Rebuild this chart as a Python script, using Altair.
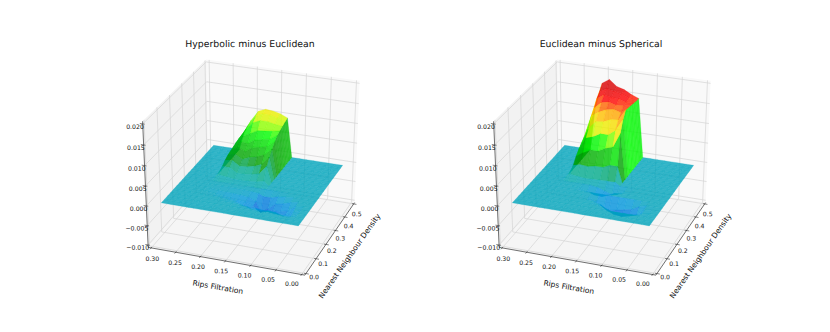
import altair as alt
import numpy as np
import pandas as pd

W, H = 814, 316
PANEL_SHIFT = [0, 351]
TITLES = ["Hyperbolic minus Euclidean", "Euclidean minus Spherical"]

# surface grid nodes
RIPS = [0.015, 0.03, 0.045, 0.06, 0.075, 0.09, 0.105, 0.12, 0.13, 0.145, 0.16, 0.175,
        0.19, 0.205, 0.22, 0.23, 0.25, 0.265, 0.285]
DENS = [round(0.025 * i, 3) for i in range(1, 20)]

# raised block: rows by density, columns by Rips value (units of 1e-3)
HUMP_RIPS = [0.22, 0.205, 0.19, 0.175, 0.16, 0.145, 0.13]
HUMP_DENS = [0.475, 0.45, 0.425, 0.4, 0.375, 0.35, 0.325, 0.3, 0.275, 0.25]
HUMP_A = [
    [4.5, 8.0, 10.6, 11.4, 11.2, 10.8, 10.0],
    [4.5, 7.6, 10.0, 11.0, 10.9, 10.4, 9.7],
    [4.5, 7.2, 9.2, 10.0, 10.0, 9.6, 9.4],
    [4.3, 6.2, 7.2, 8.2, 8.4, 8.6, 9.0],
    [4.0, 5.6, 5.4, 6.6, 7.0, 7.4, 8.6],
    [3.8, 5.0, 4.2, 5.4, 5.8, 6.4, 7.8],
    [3.5, 4.0, 3.0, 3.8, 4.2, 5.0, 6.7],
    [3.0, 3.2, 2.0, 2.2, 2.6, 3.4, 5.5],
    [2.2, 2.2, 1.0, 1.1, 1.3, 1.8, 4.0],
    [0.8, 0.6, 0.3, 0.3, 0.4, 0.6, 1.0],
]
HUMP_B = [
    [10.4, 17.4, 18.6, 17.1, 16.6, 15.6, 14.9],
    [9.6, 16.0, 17.0, 16.6, 16.2, 15.5, 15.0],
    [8.6, 15.0, 16.2, 15.8, 15.7, 15.1, 15.2],
    [7.6, 13.4, 15.0, 15.4, 14.9, 15.0, 15.4],
    [6.6, 12.2, 13.4, 14.2, 14.6, 14.0, 15.6],
    [5.8, 9.8, 11.8, 12.0, 12.8, 13.0, 15.8],
    [5.0, 8.2, 8.8, 9.8, 9.8, 11.2, 14.2],
    [4.0, 5.2, 6.2, 6.2, 7.2, 7.8, 11.5],
    [2.5, 3.0, 2.8, 3.2, 3.2, 4.0, 4.0],
    [1.0, 0.7, 0.5, 0.6, 0.7, 0.8, 0.8],
]

# sunken block (units of 1e-3)
DIP_RIPS = [0.045, 0.06, 0.075, 0.09, 0.105, 0.12, 0.13, 0.145, 0.16, 0.175, 0.19, 0.205, 0.22]
DIP_DENS = [0.225, 0.2, 0.175, 0.15, 0.125, 0.1, 0.075]
DIP_A = [
    [0, 0, 0, 0, 0, 0, 0, 0, 0, 0, 0, 0, 0],
    [0, 0, -0.2, -0.4, -1.0, -1.0, -0.4, -0.2, -0.1, 0, 0, 0, 0],
    [0, -0.4, -1.0, -1.4, -3.0, -4.2, -1.6, -0.8, -0.6, -0.5, -0.4, -0.3, -0.1],
    [-0.2, -1.6, -2.2, -2.2, -2.8, -2.8, -1.8, -1.3, -1.0, -0.8, -0.6, -0.3, -0.1],
    [-0.8, -1.8, -2.0, -1.8, -1.6, -1.4, -1.6, -1.2, -0.5, -0.3, -0.1, 0, 0],
    [-1.0, -1.2, -0.6, -0.5, -0.8, -0.8, -0.4, -0.2, 0, 0, 0, 0, 0],
    [-0.3, -0.1, 0, 0, 0, 0, 0, 0, 0, 0, 0, 0, 0],
]
DIP_B = [
    [0, 0, 0, 0, -0.3, -1.3, -1.6, -1.0, -0.3, 0, 0, 0, 0],
    [0, 0, 0, 0, 0, -0.2, -0.8, -1.5, -1.4, -0.8, -0.2, 0, 0],
    [0, 0, 0, 0, 0, 0, 0, 0, 0, 0, 0, 0, 0],
    [0, -0.6, -1.6, -2.0, -2.4, -2.8, -2.4, -1.2, -0.3, 0, 0, 0, 0],
    [-0.3, -1.8, -2.4, -2.8, -2.6, -1.8, -0.8, -0.2, 0, 0, 0, 0, 0],
    [-0.4, -1.0, -1.1, -1.2, -1.0, -0.3, 0, 0, 0, 0, 0, 0, 0],
    [0, 0, 0, 0, 0, 0, 0, 0, 0, 0, 0, 0, 0],
]

RIPS_TICKS = [0.30, 0.25, 0.20, 0.15, 0.10, 0.05, 0.00]
DENS_TICKS = [0.0, 0.1, 0.2, 0.3, 0.4, 0.5]
Z_TICKS = [-0.010, -0.005, 0.000, 0.005, 0.010, 0.015, 0.020]

# view
ELEV, AZIM, DIST = np.radians(30), np.radians(-70), 10.0
CX, CY, SX, SY = 254.0, 164.0, 165.0, 143.0


def fx(r):
    return 0.98 - np.asarray(r, float) / 0.30 * 0.96


def fy(d):
    return 0.02 + np.asarray(d, float) / 0.50 * 0.96


def fz(z):
    return 0.02 + (np.asarray(z, float) + 0.010) / 0.030 * 0.96


def project(X, Y, Z):
    a, b, c = X - 0.5, Y - 0.5, Z - 0.5
    u = -np.sin(AZIM) * a + np.cos(AZIM) * b
    v = -np.sin(ELEV) * np.cos(AZIM) * a - np.sin(ELEV) * np.sin(AZIM) * b + np.cos(ELEV) * c
    w = np.cos(ELEV) * np.cos(AZIM) * a + np.cos(ELEV) * np.sin(AZIM) * b + np.sin(ELEV) * c
    f = DIST / (DIST - w)
    return CX + SX * u * f, CY - SY * v * f, w


STOPS = np.arange(21) * 0.05
CM_R = [0, .4667, .5333, 0, 0, 0, 0, 0, 0, 0, 0, 0, 0, .7333, .9333, 1, 1, 1, .8667, .8, .8]
CM_G = [0, 0, 0, 0, 0, .4667, .6, .6667, .6667, .6, .7333, .8667, 1, 1, .9333, .8, .6, 0, 0, 0, .8]
CM_B = [0, .5333, .6, .6667, .8667, .8667, .8667, .6667, .5333, 0, 0, 0, 0, 0, 0, 0, 0, 0, 0, 0, .8]


def cmap(z):
    t = float(np.clip((z + 0.010) / 0.030, 0, 1))
    rgb = [int(round(255 * np.interp(t, STOPS, c))) for c in (CM_R, CM_G, CM_B)]
    return "#%02x%02x%02x" % tuple(rgb)


def build_grid(hump, dip):
    g = np.zeros((len(DENS), len(RIPS)))
    for i, d in enumerate(DIP_DENS):
        for j, r in enumerate(DIP_RIPS):
            g[DENS.index(d), RIPS.index(r)] = dip[i][j] * 1e-3
    for i, d in enumerate(HUMP_DENS):
        for j, r in enumerate(HUMP_RIPS):
            g[DENS.index(d), RIPS.index(r)] = hump[i][j] * 1e-3
    return g


seg_rows, pane_rows, tick_rows, axis_rows, surf_rows, text_rows = [], [], [], [], [], []
sid = [0]


def add_seg(rows, shift, p0, p1, color):
    sid[0] += 1
    for k, p in enumerate((p0, p1)):
        px, py, _ = project(*[np.float64(q) for q in p])
        rows.append(dict(seg=sid[0], v=k, px=px + shift, py=py, c=color))


def add_text(shift, pos, text, size, angle=0.05, align="center", dx=0.0):
    px, py, _ = project(*[np.float64(q) for q in pos])
    text_rows.append(dict(px=px + shift + dx, py=py, t=text, s=size, ang=angle, al=align))


for shift, title, hump, dip in zip(PANEL_SHIFT, TITLES, (HUMP_A, HUMP_B), (DIP_A, DIP_B)):
    # panes
    for corners, col in (
        ([(0, 1, 0), (1, 1, 0), (1, 1, 1), (0, 1, 1)], "#f9f9f9"),
        ([(0, 0, 0), (0, 1, 0), (0, 1, 1), (0, 0, 1)], "#f2f2f2"),
        ([(0, 0, 0), (1, 0, 0), (1, 1, 0), (0, 1, 0)], "#f5f5f5"),
    ):
        sid[0] += 1
        for k, c in enumerate(corners):
            px, py, _ = project(*[np.float64(q) for q in c])
            pane_rows.append(dict(seg=sid[0], v=k, px=px + shift, py=py, c=col))
    GRID = "#d4d4d4"
    for r in RIPS_TICKS:
        X = float(fx(r))
        add_seg(seg_rows, shift, (X, 0, 0), (X, 1, 0), GRID)
        add_seg(seg_rows, shift, (X, 1, 0), (X, 1, 1), GRID)
        add_seg(tick_rows, shift, (X, 0.012, 0), (X, -0.018, 0), "#333333")
        add_text(shift, (0.5 + (X - 0.5) * 0.925, -0.07, -0.04), "%.2f" % r, 6.2)
    for d in DENS_TICKS:
        Y = float(fy(d))
        add_seg(seg_rows, shift, (0, Y, 0), (1, Y, 0), GRID)
        add_seg(seg_rows, shift, (0, Y, 0), (0, Y, 1), GRID)
        add_seg(tick_rows, shift, (0.988, Y, 0), (1.018, Y, 0), "#333333")
        add_text(shift, (1.036, 0.5 + (Y - 0.5) * 0.9, -0.053), "%.1f" % d, 6.2)
    for z in Z_TICKS:
        Z = float(fz(z))
        add_seg(seg_rows, shift, (0, 0, Z), (0, 1, Z), GRID)
        add_seg(seg_rows, shift, (0, 1, Z), (1, 1, Z), GRID)
        add_seg(tick_rows, shift, (0.012, 0, Z), (-0.018, 0, Z), "#333333")
        label = ("%.3f" % z).replace("-", "\u2212")
        add_text(shift, (0, 0, Z - 0.024), label, 6.2, align="right", dx=1.0)
    for p0, p1 in (((0, 0, 0), (1, 0, 0)), ((1, 0, 0), (1, 1, 0)), ((0, 0, 0), (0, 0, 1))):
        add_seg(axis_rows, shift, p0, p1, "#333333")
    add_text(shift, (0.52, -0.18, -0.10), "Rips Filtration", 7.5, angle=10)
    add_text(shift, (1.127, 0.5, -0.13), "Nearest Neighbour Density", 7.5, angle=305)
    text_rows.append(dict(px=250.0 + shift, py=44.0, t=title, s=9.3, ang=0.05, al="center"))

    # surface
    g = build_grid(hump, dip)
    RX, DY = fx(RIPS), fy(DENS)
    faces = []
    for i in range(len(DENS) - 1):
        for j in range(len(RIPS) - 1):
            idx = [(i, j), (i, j + 1), (i + 1, j + 1), (i + 1, j)]
            pts = [project(RX[b], DY[a], fz(g[a, b])) for a, b in idx]
            faces.append((np.mean([p[2] for p in pts]), np.mean([g[a, b] for a, b in idx]), pts))
    faces.sort(key=lambda f: f[0])
    for wm, zm, pts in faces:
        sid[0] += 1
        col = cmap(zm)
        for k, (px, py, _) in enumerate(pts):
            surf_rows.append(dict(seg=sid[0], v=k, px=px + shift, py=py, c=col))

sx = alt.Scale(domain=[8, 8 + W], nice=False, zero=False)
sy = alt.Scale(domain=[8 + H, 8], nice=False, zero=False)
ex = alt.X("px:Q", scale=sx, axis=None)
ey = alt.Y("py:Q", scale=sy, axis=None)


def polygons(rows, opacity, seam):
    return alt.Chart(pd.DataFrame(rows)).mark_line(
        interpolate="linear-closed", strokeWidth=seam, fillOpacity=opacity, strokeOpacity=0.45
    ).encode(
        x=ex, y=ey, detail="seg:N", order="v:Q",
        fill=alt.Fill("c:N", scale=None), color=alt.Color("c:N", scale=None),
    )


def lines(rows, width):
    return alt.Chart(pd.DataFrame(rows)).mark_line(strokeWidth=width).encode(
        x=ex, y=ey, detail="seg:N", order="v:Q", color=alt.Color("c:N", scale=None)
    )


text_layers = []
for rec in text_rows:
    text_layers.append(
        alt.Chart(pd.DataFrame([rec])).mark_text(
            font="DejaVu Sans", fontSize=rec["s"], angle=rec["ang"], align=rec["al"],
            baseline="middle", color="#111111",
        ).encode(x=ex, y=ey, text="t:N")
    )

chart = alt.layer(
    polygons(pane_rows, 1.0, 0),
    lines(seg_rows, 0.7),
    lines(axis_rows, 0.7),
    lines(tick_rows, 0.6),
    polygons(surf_rows, 0.8, 0.5),
    *text_layers,
).properties(width=W, height=H, padding=0, autosize=alt.AutoSizeParams(type="none")).configure_view(stroke=None)

chart.save("out.html", embed_options={"renderer": "svg", "actions": False})
